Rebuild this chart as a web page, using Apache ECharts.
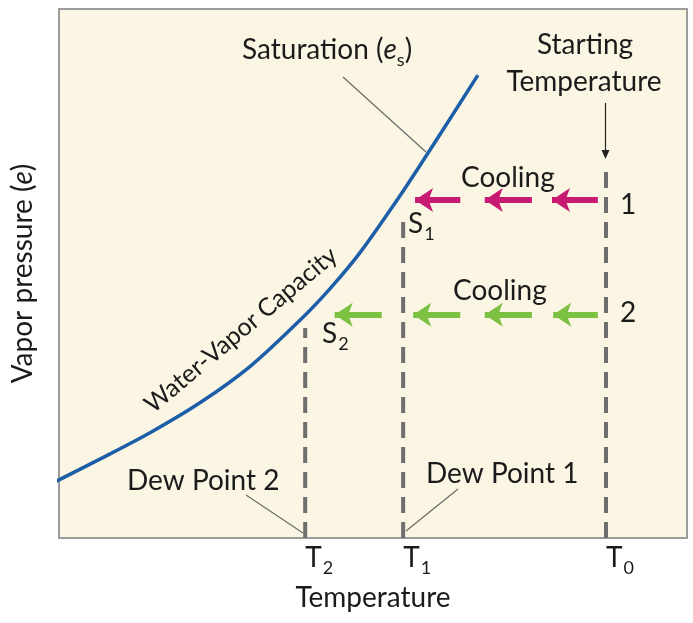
<!DOCTYPE html>
<html><head><meta charset="utf-8">
<script src="https://cdn.jsdelivr.net/npm/echarts@6/dist/echarts.min.js"></script>
<style>html,body{margin:0;padding:0;background:#fff}#c{width:693px;height:623px}</style>
</head><body><div id="c"></div>
<script>
// ---- data (axis units 0..100) ----
const curveT = [-3.0, 0, 6.5, 14.5, 22.5, 30.4, 38.4, 43.2, 47.9, 54.3, 59.1, 66.7];
const curveE = [9.4, 11.0, 14.9, 19.9, 25.6, 32.4, 41.2, 47.2, 53.9, 64.7, 73.4, 87.5];
const tickT = [39.2, 54.8, 87.1];
const tickNames = ['T', 'T', 'T'];
const tickSubs = ['2', '1', '0'];
const dashTop = [39.7, 61.4, 69.9];
const pinkE = 63.9;
const pinkFrom = [63.9, 75.3, 85.8];
const pinkTo = [56.7, 67.8, 78.5];
const greenE = 42.2;
const greenFrom = [51.4, 63.9, 75.3, 85.8];
const greenTo = [43.9, 56.4, 67.8, 78.7];

const FONT = 'Lato';
const TXT = '#1b1b1b';
const FS = 28;

const chart = echarts.init(document.getElementById('c'), null, {renderer: 'canvas'});

const richBase = {
  m: {fontSize: FS, fontFamily: FONT, color: TXT, lineHeight: 30, verticalAlign: 'top'},
  s: {fontSize: 18, fontFamily: FONT, color: TXT, lineHeight: 18, padding: [15, 0, 0, 1], verticalAlign: 'top'},
  i: {fontSize: FS, fontFamily: FONT, color: TXT, fontStyle: 'italic', lineHeight: 30, verticalAlign: 'top'},
  si: {fontSize: 18, fontFamily: FONT, color: TXT, lineHeight: 18, padding: [15, 0, 0, 0], verticalAlign: 'top'}
};

function txt(text, x, y, opts) {
  opts = opts || {};
  return {
    type: 'text', x: x, y: y, rotation: opts.rot || 0, z: 100,
    style: {
      text: text, fontFamily: FONT, fontSize: opts.fs || FS, fill: TXT,
      align: opts.align || 'left', verticalAlign: 'middle', rich: opts.rich
    }
  };
}
function seg(x1, y1, x2, y2, color, w) {
  return {type: 'line', z: 100, shape: {x1, y1, x2, y2}, style: {stroke: color || '#6a6a6a', lineWidth: w || 1.2}};
}

const series = [];
series.push({
  type: 'line', smooth: 0.3, showSymbol: false, silent: true,
  data: curveT.map((t, i) => [t, curveE[i]]),
  lineStyle: {color: '#1d5ea8', width: 3.5}, z: 5
});
tickT.forEach((t, i) => {
  series.push({
    type: 'line', showSymbol: false, silent: true,
    data: [[t, 0], [t, dashTop[i]]],
    lineStyle: {color: '#6e6e6e', width: 4, type: [16, 9]}, z: 3
  });
});
function arrows(from, to, e, color) {
  return {
    type: 'lines', coordinateSystem: 'cartesian2d', silent: true, z: 6,
    symbol: ['none', 'arrow'], symbolSize: [16, 18],
    lineStyle: {color: color, width: 6, opacity: 1, curveness: 0},
    data: from.map((f, i) => ({coords: [[f, e], [to[i], e]]}))
  };
}
series.push(arrows(pinkFrom, pinkTo, pinkE, '#c81a73'));
series.push(arrows(greenFrom, greenTo, greenE, '#7cc142'));

const option = {
  backgroundColor: '#ffffff',
  animation: false,
  grid: {left: 59, right: 6, top: 9, bottom: 85, show: true,
    backgroundColor: '#fbf5e4', borderColor: '#9c9c9c', borderWidth: 2},
  xAxis: {
    type: 'value', min: 0, max: 100,
    axisLine: {show: false}, axisTick: {show: false}, splitLine: {show: false},
    axisLabel: {
      customValues: tickT, align: 'left', margin: 6,
      formatter: function (v) {
        const i = tickT.indexOf(v);
        return i < 0 ? '' : '{m|' + tickNames[i] + '}{s|' + tickSubs[i] + '}';
      },
      rich: richBase
    },
    name: 'Temperature', nameLocation: 'middle', nameGap: 46,
    nameTextStyle: {fontFamily: FONT, fontSize: FS, color: TXT}
  },
  yAxis: {
    type: 'value', min: 0, max: 100,
    axisLine: {show: false}, axisTick: {show: false}, splitLine: {show: false},
    axisLabel: {show: false},
    name: '{m|Vapor pressure (}{i|e}{m|)}', nameLocation: 'middle', nameGap: 20, nameRotate: 90,
    nameTextStyle: {fontFamily: FONT, fontSize: FS, color: TXT, rich: richBase}
  },
  series: series,
  graphic: [
    txt('{m|Saturation (}{i|e}{si|s}{m|)}', 242, 51, {rich: richBase}),
    seg(343, 77, 426, 152),
    txt('Starting', 585, 45, {align: 'center'}),
    txt('Temperature', 584, 82, {align: 'center'}),
    seg(605.5, 103, 605.5, 151, '#222', 1.2),
    {type: 'polygon', z: 100, shape: {points: [[601.5, 150], [609.5, 150], [605.5, 159]]}, style: {fill: '#222'}},
    txt('Cooling', 461, 178),
    txt('Cooling', 453, 291),
    txt('1', 620, 205),
    txt('2', 620, 313),
    txt('{m|S}{s|1}', 408, 225, {rich: richBase}),
    txt('{m|S}{s|2}', 322, 335, {rich: richBase}),
    txt('Water-Vapor Capacity', 241, 330, {align: 'center', rot: 40 * Math.PI / 180, fs: 25}),
    txt('Dew Point 2', 127, 481),
    seg(246, 495, 303, 533),
    txt('Dew Point 1', 426, 474),
    seg(458, 489, 406, 531)
  ]
};
chart.setOption(option);
</script>
</body></html>
